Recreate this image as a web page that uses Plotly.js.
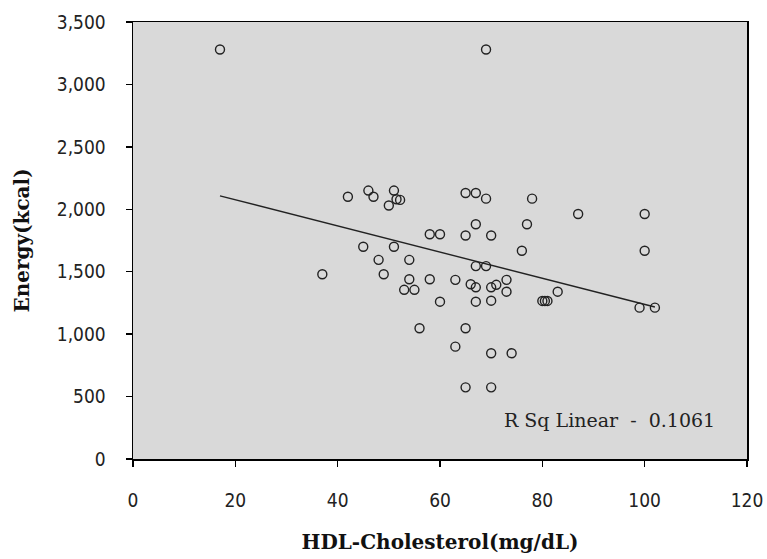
<!DOCTYPE html>
<html>
<head>
<meta charset="utf-8">
<script src="https://cdn.plot.ly/plotly-3.0.1.min.js"></script>
<style>html,body{margin:0;padding:0;background:#fff;}#chart{width:767px;height:559px;}</style>
</head>
<body>
<div id="chart"></div>
<script>
// HDL-Cholesterol (mg/dL)
const hdl = [17, 69, 37, 42, 46, 47, 51, 50, 51.5, 52.2, 45, 51, 48, 54, 49, 54, 53, 55, 58, 60, 58, 60, 63, 65, 67, 69, 67, 65, 70, 67, 69, 66, 67, 67, 70, 71, 70, 73, 73, 76, 77, 78, 87, 100, 100, 83, 80, 80.5, 81, 99, 102, 56, 65, 63, 70, 74, 65, 70];
// Energy (kcal)
const energy = [3280, 3280, 1480, 2100, 2150, 2100, 2150, 2030, 2080, 2075, 1700, 1700, 1595, 1595, 1480, 1440, 1355, 1355, 1800, 1800, 1440, 1260, 1435, 2130, 2130, 2085, 1880, 1790, 1790, 1545, 1545, 1400, 1375, 1260, 1375, 1395, 1268, 1435, 1340, 1668, 1880, 2085, 1962, 1962, 1668, 1340, 1266, 1266, 1266, 1212, 1212, 1047, 1047, 900, 847, 847, 574, 574];
const xTicks = [0, 20, 40, 60, 80, 100, 120];
const yTicks = [0, 500, 1000, 1500, 2000, 2500, 3000, 3500];
const rsqLabel = "R Sq Linear  -  0.1061";

// least-squares fit line
const n = hdl.length;
const mx = hdl.reduce((a,b)=>a+b,0)/n;
const my = energy.reduce((a,b)=>a+b,0)/n;
let sxy = 0, sxx = 0;
for (let i=0;i<n;i++){ sxy += (hdl[i]-mx)*(energy[i]-my); sxx += (hdl[i]-mx)**2; }
const slope = sxy/sxx, icpt = my - slope*mx;
const xMin = Math.min(...hdl), xMax = Math.max(...hdl);
const fitX = [xMin, xMax];
const fitY = fitX.map(v => icpt + slope*v);

const tickFont = {family: "DejaVu Sans Condensed, DejaVu Sans, sans-serif", size: 19, color: "#222"};
const titleFont = {family: "DejaVu Serif, serif", size: 20, color: "#111", weight: "bold"};

const data = [
  {x: hdl, y: energy, type: "scatter", mode: "markers",
   marker: {symbol: "circle-open", size: 9, color: "#222", line: {width: 1.4, color: "#222"}},
   hoverinfo: "x+y", showlegend: false},
  {x: fitX, y: fitY, type: "scatter", mode: "lines",
   line: {color: "#222", width: 1.4}, showlegend: false, hoverinfo: "skip"}
];

const layout = {
  width: 767, height: 559,
  paper_bgcolor: "#ffffff", plot_bgcolor: "#d9d9d9",
  margin: {l: 133, r: 20, t: 22, b: 100},
  showlegend: false,
  xaxis: {range: [0, 120], tickvals: xTicks, ticktext: xTicks.map(String),
    showgrid: false, zeroline: false, showline: true, linecolor: "#000", linewidth: 1.5, mirror: true,
    ticks: "outside", ticklen: 6, tickcolor: "#000", tickwidth: 1.5,
    ticklabelstandoff: 18, tickfont: tickFont,
    title: {text: "HDL-Cholesterol(mg/dL)", font: titleFont, standoff: 24}},
  yaxis: {range: [0, 3500], tickvals: yTicks, ticktext: yTicks.map(v => v.toLocaleString("en-US")),
    showgrid: false, zeroline: false, showline: true, linecolor: "#000", linewidth: 1.5, mirror: true,
    ticks: "outside", ticklen: 6, tickcolor: "#000", tickwidth: 1.5,
    ticklabelstandoff: 16, tickfont: tickFont,
    title: {text: "Energy(kcal)", font: titleFont, standoff: 22}},
  annotations: [{x: 114.1, y: 312, xref: "x", yref: "y", text: rsqLabel, showarrow: false,
    xanchor: "right", yanchor: "middle",
    font: {family: "DejaVu Serif, serif", size: 19, color: "#222"}}]
};

Plotly.newPlot("chart", data, layout, {displayModeBar: false, staticPlot: true});
</script>
</body>
</html>
